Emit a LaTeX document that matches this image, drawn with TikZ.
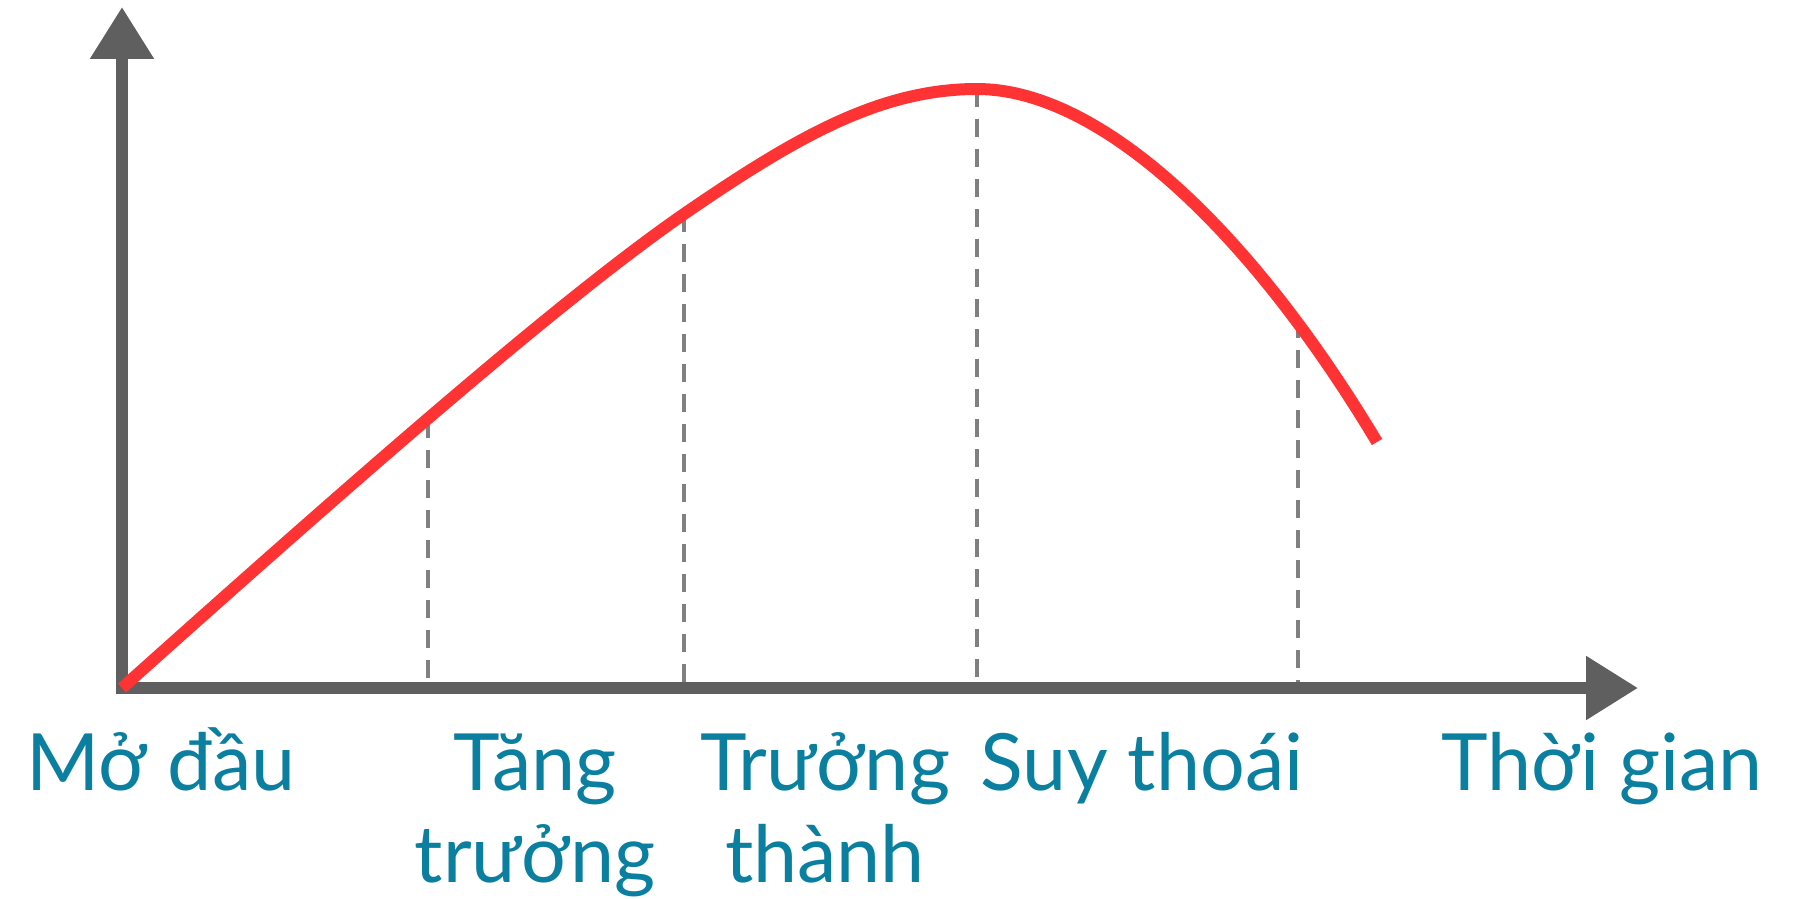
\documentclass[tikz,border=0pt]{standalone}
\usepackage{fontspec}
\setmainfont{Lato}
\usetikzlibrary{arrows.meta}
\definecolor{AxisGray}{HTML}{5F5F5F}
\definecolor{GuideGray}{HTML}{808080}
\definecolor{CurveRed}{HTML}{FF3333}
\definecolor{LabelTeal}{HTML}{0A7F9F}

\begin{document}
\begin{tikzpicture}[x=1pt,y=-1pt,
    axis/.style={line width=12pt,AxisGray,line join=miter,
                 {Triangle[length=52pt,width=61pt]}-{Triangle[length=52pt,width=61pt]}},
    guide/.style={line width=4.5pt,GuideGray,dash pattern=on 18pt off 12pt},
    curve/.style={line width=12pt,CurveRed},
    lbl/.style={anchor=base,align=center,text=LabelTeal,inner sep=0pt,
                font=\fontsize{79}{92}\selectfont}]
    \useasboundingbox (0,0) rectangle (1794,899);
    % axes
    \coordinate (o) at (122,688);
    \coordinate (ytop) at (122,7);
    \coordinate (xend) at (1638,688);
    % stage borders on the curve
    \coordinate (p1) at (428,420);
    \coordinate (p2) at (684,214);
    \coordinate (p3) at (977,89);
    \coordinate (p4) at (1298,320);
    \coordinate (q) at (1377,442);
    \foreach \p in {p1,p2,p3,p4}
      \draw[guide] (\p) -- (\p |- o);
    \draw[axis] (ytop) -- (o) -- (xend);
    \draw[curve] (o) .. controls (360,475) and (560,300) .. (p2)
      .. controls (796,137) and (880,89) .. (p3)
      .. controls (1100,89) and (1250,230) .. (q);
    % stage names
    \node[lbl] (start) at (161,790) {Mở đầu};
    \node[lbl] (growth) at (535,882) {Tăng\\trưởng};
    \node[lbl] (mature) at (825,882) {Trưởng\\thành};
    \node[lbl] (decline) at (1142,790) {Suy thoái};
    \node[lbl] (time) at (1602,790) {Thời gian};
\end{tikzpicture}
\end{document}
